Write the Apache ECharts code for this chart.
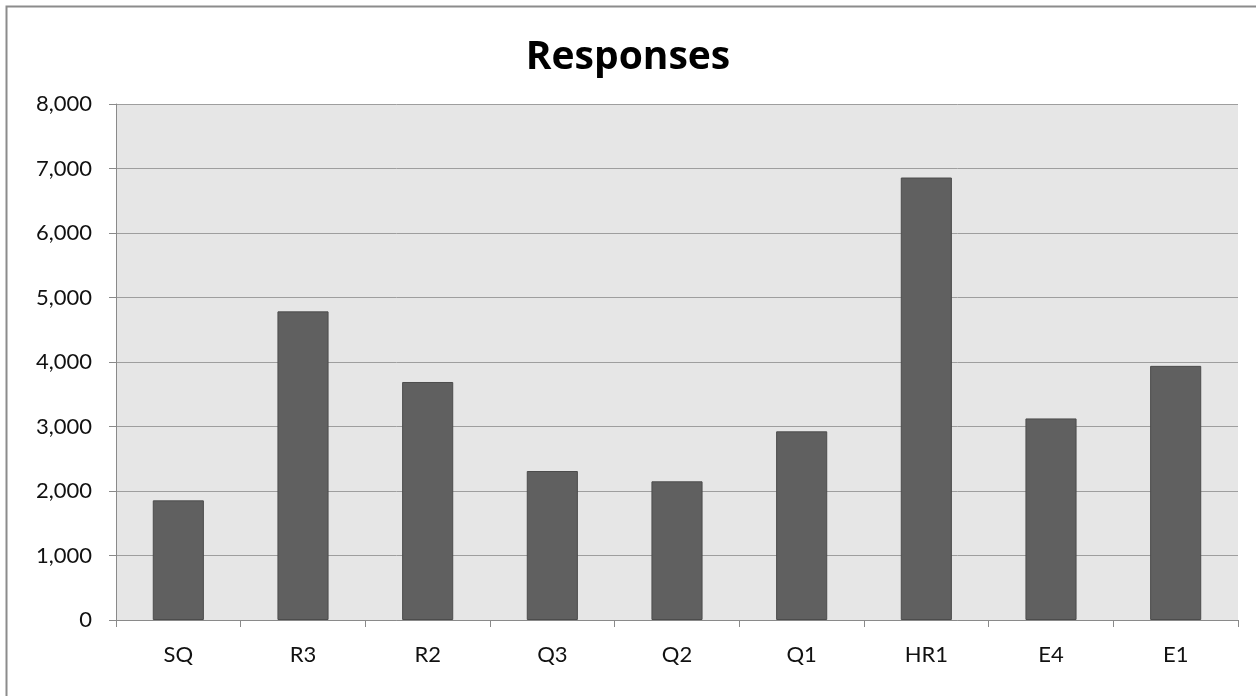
<!DOCTYPE html>
<html>
<head>
<meta charset="utf-8">
<script src="https://cdn.jsdelivr.net/npm/echarts@6/dist/echarts.min.js"></script>
<style>
  html, body { margin: 0; padding: 0; background: #ffffff; }
  #chart { width: 1256px; height: 696px; }
</style>
</head>
<body>
<div id="chart"></div>
<script>
// Responses per group
const categories = ['SQ', 'R3', 'R2', 'Q3', 'Q2', 'Q1', 'HR1', 'E4', 'E1'];
const responses = [1855, 4785, 3690, 2310, 2150, 2925, 6860, 3125, 3940];
const yTicks = { min: 0, max: 8000, step: 1000 };

const labelFont = 'Lato, "Open Sans", sans-serif';

const chart = echarts.init(document.getElementById('chart'), null, { renderer: 'canvas' });

chart.setOption({
  backgroundColor: '#ffffff',
  animation: false,
  title: {
    text: 'Responses',
    left: 'center',
    top: 33,
    textStyle: {
      fontFamily: '"Open Sans", Lato, sans-serif',
      fontWeight: 'bold',
      fontSize: 39,
      color: '#000000'
    }
  },
  graphic: [{
    type: 'rect',
    left: 4,
    top: 4,
    shape: { x: 0, y: 0, width: 1300, height: 760 },
    style: { fill: 'none', stroke: '#8c8c8c', lineWidth: 2 },
    silent: true,
    z: -1
  }],
  grid: {
    left: 116,
    right: 18,
    top: 104,
    bottom: 76,
    show: true,
    backgroundColor: '#e6e6e6',
    borderWidth: 0
  },
  xAxis: {
    type: 'category',
    data: categories,
    boundaryGap: true,
    axisLine: { show: true, lineStyle: { color: '#8a8a8a', width: 1 } },
    axisTick: { show: true, alignWithLabel: false, length: 7, lineStyle: { color: '#8a8a8a' } },
    axisLabel: {
      margin: 24,
      fontFamily: labelFont,
      fontSize: 22,
      color: '#111111'
    },
    splitLine: { show: false }
  },
  yAxis: {
    type: 'value',
    min: yTicks.min,
    max: yTicks.max,
    interval: yTicks.step,
    axisLine: { show: true, lineStyle: { color: '#8a8a8a', width: 1 } },
    axisTick: { show: true, length: 7, lineStyle: { color: '#8a8a8a' } },
    axisLabel: {
      margin: 24,
      fontFamily: labelFont,
      fontSize: 22,
      color: '#111111',
      formatter: v => v.toLocaleString('en-US')
    },
    splitLine: { show: true, lineStyle: { color: '#9e9e9e', width: 1 } }
  },
  series: [{
    type: 'bar',
    data: responses,
    barWidth: '41%',
    itemStyle: {
      color: '#606060',
      borderColor: '#4c4c4c',
      borderWidth: 1
    }
  }]
});
</script>
</body>
</html>
